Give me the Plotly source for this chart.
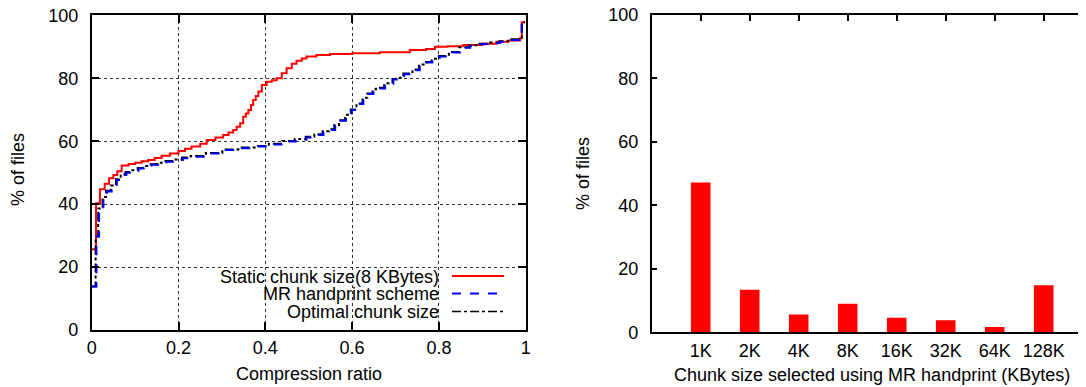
import plotly.graph_objects as go

# ---------------- data (left: CDF of compression ratio) ----------------
static_x = [0.0, 0.010, 0.019, 0.030, 0.040, 0.050, 0.059, 0.069, 0.085, 0.100, 0.115, 0.130,
            0.145, 0.161, 0.180, 0.200, 0.215, 0.230, 0.250, 0.265, 0.285, 0.303, 0.315, 0.326,
            0.334, 0.342, 0.349, 0.355, 0.361, 0.367, 0.372, 0.378, 0.384, 0.392, 0.403, 0.415,
            0.426, 0.438, 0.449, 0.461, 0.472, 0.484, 0.495, 0.518, 0.549, 0.600, 0.664, 0.733,
            0.770, 0.791, 0.820, 0.856, 0.900, 0.933, 0.960, 0.987, 0.991, 0.998]
static_y = [25.7, 40.3, 44.7, 46.5, 48.2, 49.3, 50.5, 52.3, 52.8, 53.2, 53.6, 54.0,
            54.7, 55.4, 56.1, 56.9, 57.6, 58.3, 59.2, 60.4, 61.2, 62.0, 62.8, 63.6,
            64.6, 65.7, 67.8, 68.8, 69.9, 71.5, 73.1, 74.4, 75.8, 77.9, 78.9, 79.4,
            80.0, 81.6, 83.2, 84.6, 85.6, 86.3, 86.9, 87.4, 87.7, 88.0, 88.3, 89.0,
            89.3, 90.0, 90.2, 90.6, 91.0, 91.6, 92.0, 92.7, 97.8, 97.8]

mr_x = [0.0, 0.011, 0.017, 0.027, 0.035, 0.046, 0.058, 0.069, 0.080, 0.092, 0.108, 0.123,
        0.138, 0.153, 0.172, 0.192, 0.210, 0.230, 0.265, 0.303, 0.340, 0.380, 0.410, 0.441,
        0.470, 0.495, 0.515, 0.534, 0.549, 0.561, 0.572, 0.586, 0.599, 0.612, 0.626, 0.637,
        0.649, 0.657, 0.676, 0.695, 0.703, 0.720, 0.741, 0.756, 0.772, 0.785, 0.802, 0.825,
        0.849, 0.872, 0.895, 0.920, 0.941, 0.965, 0.987, 0.991, 0.998]
mr_y = [13.8, 29.7, 38.1, 41.9, 44.0, 45.6, 47.7, 49.3, 50.0, 50.6, 51.3, 51.9,
        52.5, 53.0, 53.5, 54.0, 54.6, 55.1, 56.1, 57.2, 57.8, 58.3, 59.0, 59.9,
        60.5, 61.2, 62.0, 63.0, 63.6, 65.0, 66.5, 68.2, 69.9, 71.8, 73.6, 75.0,
        76.3, 76.8, 78.2, 79.6, 80.0, 81.3, 82.6, 84.2, 85.0, 86.0, 86.9, 88.2,
        89.7, 90.3, 90.8, 91.2, 91.6, 92.2, 92.7, 97.8, 97.8]

opt_x = [0.0, 0.009, 0.015, 0.025, 0.033, 0.044, 0.056, 0.067, 0.078, 0.090, 0.106, 0.121,
         0.136, 0.151, 0.170, 0.190, 0.208, 0.228, 0.263, 0.301, 0.338, 0.378, 0.408, 0.439,
         0.468, 0.493, 0.513, 0.532, 0.547, 0.559, 0.570, 0.584, 0.597, 0.610, 0.624, 0.635,
         0.647, 0.655, 0.674, 0.693, 0.701, 0.718, 0.739, 0.754, 0.770, 0.783, 0.800, 0.823,
         0.847, 0.870, 0.893, 0.918, 0.939, 0.963, 0.987, 0.991, 0.998]
opt_y = [13.8, 29.7, 38.6, 42.3, 44.3, 45.9, 47.9, 49.5, 50.2, 50.8, 51.5, 52.1,
         52.7, 53.2, 53.7, 54.2, 54.8, 55.3, 56.3, 57.4, 58.0, 58.5, 59.2, 60.1,
         60.7, 61.4, 62.2, 63.2, 63.8, 65.2, 66.7, 68.4, 70.1, 72.0, 73.8, 75.2,
         76.5, 77.0, 78.4, 79.8, 80.2, 81.5, 82.8, 84.4, 85.2, 86.2, 87.1, 88.4,
         89.9, 90.5, 91.0, 91.4, 91.8, 92.4, 92.9, 97.8, 97.8]

# ---------------- data (right: chunk size histogram) ----------------
chunk_labels = ["1K", "2K", "4K", "8K", "16K", "32K", "64K", "128K"]
chunk_pos = [1, 2, 3, 4, 5, 6, 7, 8]
chunk_pct = [47.2, 13.4, 5.6, 9.0, 4.6, 3.8, 1.7, 14.8]

legend_names = ["Static chunk size(8 KBytes)", "MR handprint scheme", "Optimal chunk size"]

# The page body has an 8px margin; the figure is sized to fill the rest of the window.
OFF = 8
W, H = 1086 - OFF, 387 - OFF
FONT = "Liberation Sans, Arial, Helvetica, sans-serif"
FS = 18


def px(x):
    return (x - OFF) / W


def py(y):
    return 1 - (y - OFF) / H


fig = go.Figure()

fig.add_trace(go.Scatter(x=static_x, y=static_y, mode="lines", line_shape="hv",
                         line=dict(color="#ff0000", width=2), name=legend_names[0],
                         xaxis="x", yaxis="y", showlegend=False))
fig.add_trace(go.Scatter(x=opt_x, y=opt_y, mode="lines", line_shape="hv",
                         line=dict(color="black", width=2, dash="dashdot"), name=legend_names[2],
                         xaxis="x", yaxis="y", showlegend=False))
fig.add_trace(go.Scatter(x=mr_x, y=mr_y, mode="lines", line_shape="hv",
                         line=dict(color="#0000ff", width=2, dash="dash"), name=legend_names[1],
                         xaxis="x", yaxis="y", showlegend=False))

fig.add_trace(go.Bar(x=chunk_pos, y=chunk_pct, width=0.4, marker=dict(color="#ff0000", line=dict(width=0)),
                     xaxis="x2", yaxis="y2", showlegend=False))

axis_common = dict(showline=True, linecolor="black", linewidth=1.5, ticks="inside",
                   tickcolor="black", tickwidth=1.5, zeroline=False, automargin=False,
                   ticklabeloverflow="allow",
                   tickfont=dict(family=FONT, size=FS, color="black"))

fig.update_layout(
    template="none",
    width=W, height=H,
    margin=dict(l=0, r=0, t=0, b=0, autoexpand=False),
    paper_bgcolor="white", plot_bgcolor="white",
    font=dict(family=FONT, size=FS, color="black"),
    xaxis=dict(domain=[px(91.7), px(525.7)], range=[0, 1], anchor="y",
               tickvals=[0, 0.2, 0.4, 0.6, 0.8, 1], ticktext=["0", "0.2", "0.4", "0.6", "0.8", "1"],
               mirror="ticks", ticklen=8, showgrid=True, gridcolor="#333333", griddash="dot",
               gridwidth=1, ticklabelstandoff=1, **axis_common),
    yaxis=dict(domain=[py(330), py(15.4)], range=[0, 100], anchor="x",
               tickvals=[0, 20, 40, 60, 80, 100],
               mirror="ticks", ticklen=8, showgrid=True, gridcolor="#333333", griddash="dot",
               gridwidth=1, ticklabelstandoff=8, **axis_common),
    xaxis2=dict(domain=[px(651.7), 1.0], range=[0, (1086 - 651.7) / 49.0], anchor="y2",
                tickvals=chunk_pos, ticktext=chunk_labels, mirror="ticks", ticklen=6,
                showgrid=False, layer="below traces", ticklabelstandoff=1, **axis_common),
    yaxis2=dict(domain=[py(332.3), py(15)], range=[0, 100], anchor="x2",
                tickvals=[0, 20, 40, 60, 80, 100], mirror=False, ticklen=6,
                showgrid=False, ticklabelstandoff=8, **axis_common),
)

annotations = [
    dict(text="% of files", x=px(18), y=py(170), xref="paper", yref="paper", textangle=-90,
         showarrow=False, xanchor="center", yanchor="middle", font=dict(family=FONT, size=FS)),
    dict(text="% of files", x=px(583), y=py(174), xref="paper", yref="paper", textangle=-90,
         showarrow=False, xanchor="center", yanchor="middle", font=dict(family=FONT, size=FS)),
    dict(text="Compression ratio", x=px(308.7), y=py(374), xref="paper", yref="paper",
         showarrow=False, xanchor="center", yanchor="middle", font=dict(family=FONT, size=FS)),
    dict(text="Chunk size selected using MR handprint (KBytes)", x=px(872), y=py(375),
         xref="paper", yref="paper", showarrow=False, xanchor="center", yanchor="middle",
         font=dict(family=FONT, size=FS)),
]

legend_y = [276.5, 294, 312]
legend_styles = [dict(color="#ff0000", width=2, dash="solid"),
                 dict(color="#0000ff", width=2, dash="dash"),
                 dict(color="black", width=1.5, dash="dashdot")]
shapes = []
for name, yy, st in zip(legend_names, legend_y, legend_styles):
    annotations.append(dict(text=name, x=px(440), y=py(yy), xref="paper", yref="paper",
                            showarrow=False, xanchor="right", yanchor="middle", borderpad=0,
                            font=dict(family=FONT, size=FS), bgcolor="rgba(0,0,0,0)"))
    shapes.append(dict(type="line", xref="paper", yref="paper", x0=px(452), x1=px(504),
                       y0=py(yy - 0.5), y1=py(yy - 0.5), line=st))

fig.update_layout(annotations=annotations, shapes=shapes)

fig.write_html("out.html")
